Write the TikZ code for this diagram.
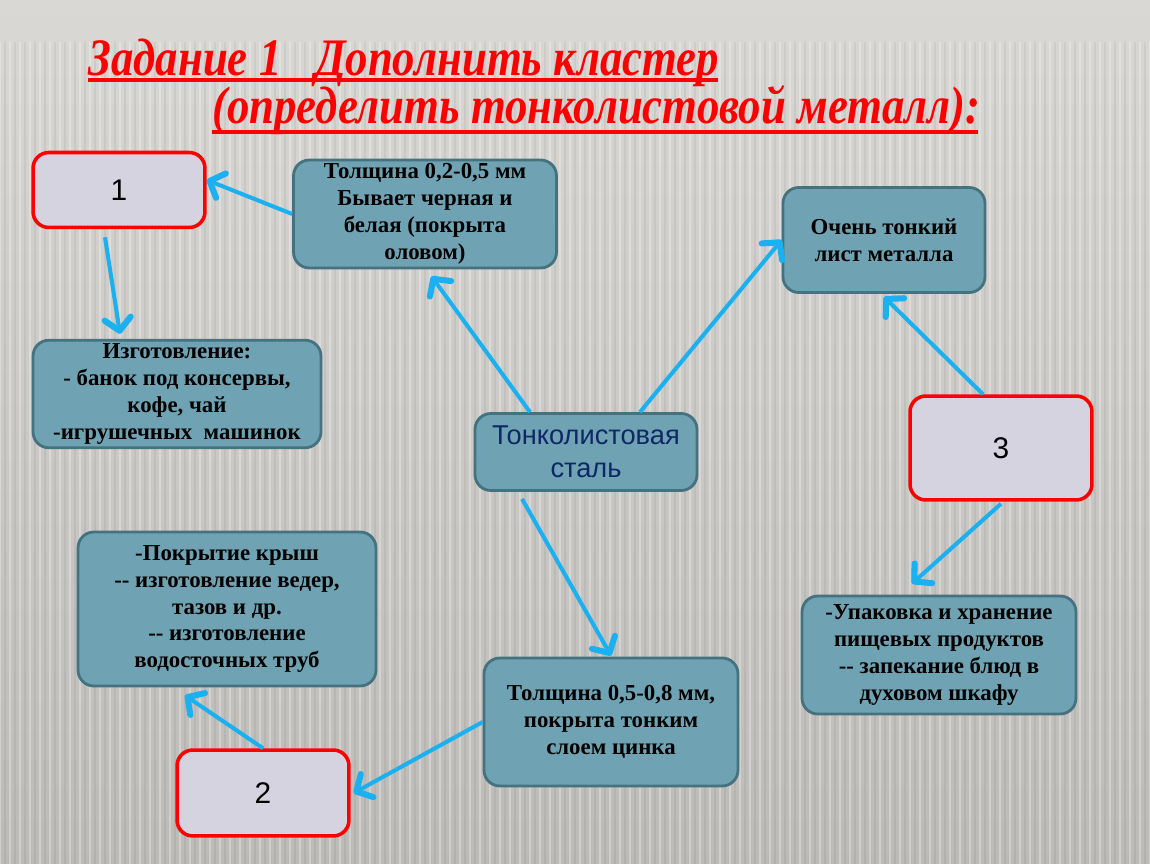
\documentclass[tikz,border=0pt]{standalone}
\usepackage{fontspec}
\setmainfont{Liberation Serif}
\newfontfamily\sansfont{Liberation Sans}
\usepackage{graphicx}
\usetikzlibrary{arrows.meta}

\definecolor{boxteal}{HTML}{6FA3B3}
\definecolor{tealedge}{HTML}{44727F}
\definecolor{blanklilac}{HTML}{D5D3E0}
\definecolor{linkblue}{HTML}{1BB0EF}
\definecolor{steelblue}{HTML}{0F2766}
\definecolor{bgtop}{HTML}{DAD8D4}
\definecolor{bgbot}{HTML}{BDBBB8}

\tikzset{
  info/.style={draw=tealedge, fill=boxteal, line width=1.6pt, rounded corners=9pt,
    align=center, inner sep=2pt,
    font=\bfseries\fontsize{13}{15.3}\selectfont},
  blank/.style={draw=red, fill=blanklilac, line width=2pt, rounded corners=9pt,
    font=\sansfont\fontsize{17}{20}\selectfont},
  link/.style={draw=linkblue, line width=2.3pt,
    -{Straight Barb[length=7pt,width=15pt,line width=0pt 1.5,round]}},
  heading/.style={text=red, inner sep=0pt, anchor=base west,
    font=\bfseries\itshape\fontsize{30}{34}\selectfont}
}

\begin{document}
\begin{tikzpicture}[x={(0.02cm,0)}, y={(0,-0.02cm)}]
    \useasboundingbox (0,0) rectangle (1150,864);
    % background
    \shade[top color=bgtop, bottom color=bgbot] (0,0) rectangle (1150,864);
    \foreach \x in {0,10,...,1150} {
      \draw[white, opacity=0.28, line width=1.3pt] (\x,42) -- (\x,864);
      \draw[black, opacity=0.05, line width=1pt] (\x+5,42) -- (\x+5,864);
    }
    % title
    \node[heading] (title) at (88,76) {\scalebox{0.85}[1]{Задание 1\ \ \ Дополнить кластер}};
    \node[heading] (subtitle) at (212,124) {\scalebox{0.85}[1]{(определить тонколистовой металл):}};
    \draw[red, line width=2.2pt] (88,80) -- (718,80);
    \draw[red, line width=2.2pt] (212,132) -- (978,132);
    % boxes
    \node[blank, minimum width=3.44cm, minimum height=1.5cm] (one) at (119,190) {1};
    \node[blank, minimum width=3.44cm, minimum height=1.72cm] (two) at (263,793) {2};
    \node[blank, minimum width=3.64cm, minimum height=2.08cm] (three) at (1001,448) {3};
    \node[info, minimum width=5.26cm, minimum height=2.16cm] (thin) at (425,214)
      {Толщина 0,2-0,5 мм\\Бывает черная и\\белая (покрыта\\оловом)};
    \node[info, minimum width=5.76cm, minimum height=2.08cm] (cans) at (177,394)
      {Изготовление:\\ - банок под консервы,\\кофе, чай\\-игрушечных\ \ машинок};
    \node[info, minimum width=4.44cm, minimum height=1.54cm,
      font=\sansfont\fontsize{15.5}{19}\selectfont, text=steelblue] (steel) at (586,452)
      {Тонколистовая\\сталь};
    \node[info, minimum width=4.04cm, minimum height=2.1cm] (sheet) at (884,240)
      {Очень тонкий\\лист металла};
    \node[info, minimum width=5.48cm, minimum height=2.36cm] (food) at (939,655)
      {-Упаковка и хранение\\пищевых продуктов\\-{}- запекание блюд в\\духовом шкафу};
    \node[info, minimum width=5.08cm, minimum height=2.56cm] (zinc) at (611,722)
      {Толщина 0,5-0,8 мм,\\покрыта тонким\\слоем цинка};
    \node[info, minimum width=5.96cm, minimum height=3.08cm] (roof) at (227,609)
      {-Покрытие крыш\\-{}- изготовление ведер,\\тазов и др.\\-{}- изготовление\\водосточных труб};
    % arrows
    \draw[link] (thin.west) to ([yshift=2mm]one.east);
    \draw[link] ([xshift=-2.8mm,yshift=-1.6mm]one.south) to ([xshift=-11.4mm,yshift=1mm]cans.north);
    \draw[link] ([xshift=-11.2mm]steel.north) to ([xshift=1.3mm,yshift=-1.4mm]thin.south);
    \draw[link] ([xshift=10.8mm]steel.north) to (sheet.west);
    \draw[link] ([xshift=-3.6mm]three.north) to ([yshift=-0.6mm]sheet.south);
    \draw[link] ([yshift=-0.4mm]three.south) to ([xshift=-5.4mm,yshift=2.2mm]food.north);
    \draw[link] ([xshift=-12.8mm,yshift=-1.4mm]steel.south) to ([yshift=0.2mm]zinc.north);
    \draw[link] (zinc.west) to ([xshift=0.6mm]two.east);
    \draw[link] (two.north) to ([xshift=-8.4mm,yshift=-1.6mm]roof.south);
  \end{tikzpicture}
\end{document}
